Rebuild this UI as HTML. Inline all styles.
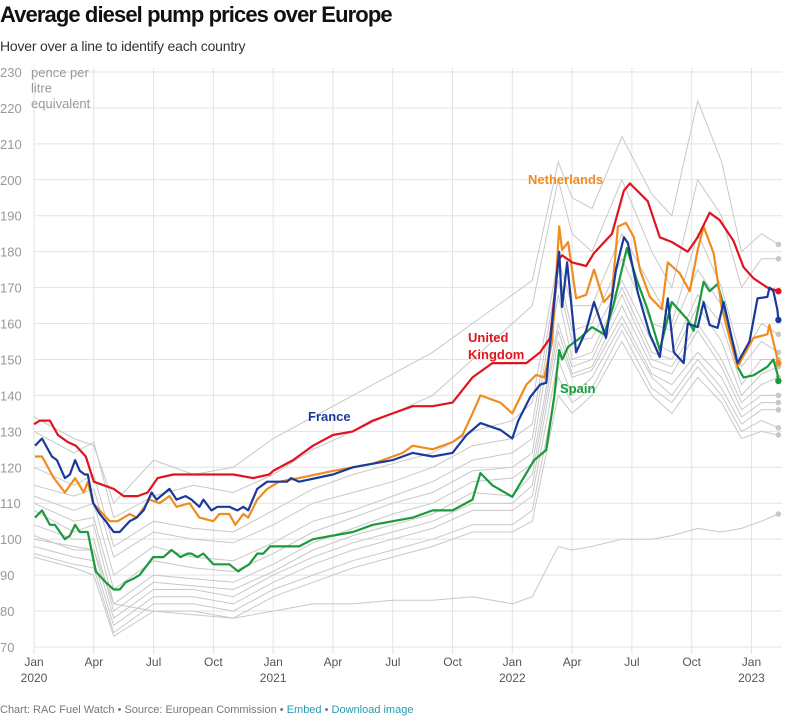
<!DOCTYPE html>
<html><head><meta charset="utf-8"><style>
body{margin:0;background:#fff;font-family:"Liberation Sans",sans-serif;}
#wrap{position:relative;width:790px;height:717px;overflow:hidden;}
h1{position:absolute;left:0;top:2px;margin:0;font-size:22px;font-weight:bold;color:#111;letter-spacing:-0.9px}
.sub{position:absolute;left:0;top:38px;font-size:14px;color:#333;letter-spacing:-0.2px}
.foot{position:absolute;left:0;top:704px;font-size:11px;color:#777}
.foot span{color:#2a9ab0}
svg{position:absolute;left:0;top:0}
</style></head><body>
<div id="wrap">
<h1>Average diesel pump prices over Europe</h1>
<div class="sub">Hover over a line to identify each country</div>
<svg id="chart" width="790" height="717"></svg>
<div class="foot">Chart: RAC Fuel Watch • Source: European Commission • <span>Embed</span> • <span>Download image</span></div>
</div>
<script>
const yTicks=[70,80,90,100,110,120,130,140,150,160,170,180,190,200,210,220,230];
const xTickMonths=[0,3,6,9,12,15,18,21,24,27,30,33,36];
const xTickLabels=["Jan","Apr","Jul","Oct","Jan","Apr","Jul","Oct","Jan","Apr","Jul","Oct","Jan"];
const yearLabels=[[0,"2020"],[12,"2021"],[24,"2022"],[36,"2023"]];
const ukMonths=[0,0.3,0.8,1.2,1.7,2.1,2.6,3.0,3.5,4.0,4.5,5.2,5.7,6.2,7,8,9,10,11,11.8,12,13,14,15,16,17,18,19,20,21,22,23,24,24.7,25.4,25.9,26.3,26.5,27,27.7,28.1,29,29.6,29.9,30.8,31.4,32,32.8,33.3,33.9,34.4,35.1,35.6,36.1,36.8,37.35];
const ukValues=[132,133,133,129,127,126,123,116,115,114,112,112,113,117,118,118,118,118,117,118,119,122,126,129,130,133,135,137,137,138,145,149,149,149,152,156,177.7,179,177,176,179.6,185,197,199,194,184,182.7,180,184,190.8,188.8,183,175.7,172.6,170,169];
const nlMonths=[0.05,0.4,1.0,1.55,2.06,2.5,2.7,2.97,3.8,4.2,4.8,5.15,5.8,6.3,6.8,7.15,7.8,8.3,9.0,9.3,9.8,10.1,10.5,10.75,11.2,11.7,12.3,13.3,15,17,18.5,19,20,21,21.5,22,22.4,23.4,24.0,24.7,25.2,25.6,26.0,26.35,26.5,26.8,27.2,27.7,28.1,28.6,29.0,29.3,29.7,30.1,30.4,30.9,31.5,31.8,32.4,32.9,33.3,33.6,34.1,34.5,34.9,35.3,36.1,36.8,36.9,37.35];
const nlValues=[123,123,117,113,117,113,116,110,105,105,107,106,111,110,112,109,110,106,105,107,107,104,107,106,111,114,116,117,119,121,124,126,125,127,129,135,140,138,135,143,145.7,145,155,187,180.5,182.7,167,168,175,166,168.5,187,188,184,175,167.4,164,177,174,169,180.5,187,179.6,164.6,156,148,156,157,159.6,149];
const frMonths=[0.05,0.4,0.9,1.15,1.55,1.8,2.06,2.3,2.55,2.7,2.97,3.3,3.6,4.0,4.3,4.8,5.15,5.5,5.9,6.15,6.8,7.15,7.6,7.9,8.3,8.5,8.9,9.2,9.8,10.2,10.5,10.75,11.2,11.7,12.7,12.9,13.3,15,16,17,18,19,20,21,21.7,22.4,23.4,24,24.3,24.9,25.4,25.7,26.35,26.5,26.75,27.2,27.7,28.1,28.7,29.2,29.6,29.8,30.3,30.9,31.4,31.8,32.1,32.6,32.8,33.3,33.6,33.9,34.3,34.6,35.3,35.9,36.3,36.8,36.9,37.1,37.3,37.35];
const frValues=[126,128,123,122,117,118,122,119,118,118,110,107,105,102,102,105,106,108,113,111,114,111,112,111,109,111,108,109,109,108,109,108,114,116,116,117,116,118,120,121,122,124,123,124,129,132.3,130.4,128,133,139.6,143,143.5,180,164.6,177,152,158,166,156,175,184,182.4,168.5,157,150.7,167,152,149,160,159,166,159.6,158.8,166,149,155,167,167.4,170,169,163.8,161];
const esMonths=[0.05,0.4,0.8,1.05,1.55,1.8,2.06,2.3,2.7,3.1,3.6,4.0,4.3,4.6,4.98,5.3,5.98,6.5,6.9,7.35,7.7,7.9,8.2,8.5,9.0,9.8,10.25,10.5,10.8,11.2,11.5,11.85,13.3,14,16,17,19,20,21,22,22.4,23,24,24.5,25.1,25.7,26.1,26.35,26.5,26.8,27.4,28.0,28.6,29.05,29.75,30.25,30.8,31.4,32.0,32.8,33.1,33.6,33.9,34.3,34.8,35.3,35.6,36.1,36.8,37.1,37.3,37.35];
const esValues=[106,108,104,104,100,101,104,102,102,91,88,86,86,88,89,90,95,95,97,95,96,96,95,96,93,93,91,92,93,96,96,98,98,100,102,104,106,108,108,111,118.4,115,111.8,116.5,122,124.8,139.6,152.6,150,153.5,156,159,157,164.6,181,172,163.8,152.6,166,161,158,171.6,169,171,161,148,145,145.6,148,150,146,144];
const grayMonths=[0,2,3,4,6,8,10,12,14,16,18,20,22,24,25,26.3,27,28,29.5,31,32,33.3,34.5,35.5,36.5,37.35];
const grayValues=[
[134,128,126,110,122,118,120,128,134,140,146,152,160,168,172,205,195,192,212,196,190,222,205,180,185,182],
[130,124,127,106,112,115,113,118,125,130,135,140,150,160,165,200,185,180,200,180,170,200,190,170,178,178],
[120,115,118,98,105,103,102,108,114,118,121,124,130,133,138,178,165,165,185,170,160,185,170,150,160,157],
[115,112,114,95,102,100,99,104,110,113,116,120,126,128,132,175,158,160,178,160,158,175,165,148,155,152],
[112,108,110,90,98,95,94,99,105,108,112,116,122,124,128,172,155,156,172,155,152,168,160,143,150,150],
[110,105,106,86,94,92,91,96,102,106,110,113,119,120,124,168,150,152,170,152,150,165,155,140,146,148],
[108,102,104,82,90,89,88,93,99,103,107,110,116,117,121,160,148,150,168,150,148,160,150,138,143,145],
[104,100,100,80,88,87,86,91,97,101,104,107,113,112,118,158,146,148,165,148,146,158,148,136,140,140],
[101,97,97,78,86,86,84,90,95,99,102,105,110,110,115,155,145,147,162,146,143,152,145,134,138,138],
[98,95,94,76,84,84,82,88,93,97,100,103,108,108,112,150,140,145,160,145,140,150,142,132,136,136],
[96,93,92,74,82,82,80,86,90,94,97,100,104,104,108,145,138,142,158,142,138,148,140,130,133,131],
[95,92,90,73,80,80,78,84,88,92,95,98,102,102,105,140,135,140,155,140,135,145,138,128,130,129],
[100,98,97,82,80,79,78,80,82,82,83,83,84,82,84,98,97,98,100,100,101,103,102,103,105,107]
];
const NS='http://www.w3.org/2000/svg';
const svg=document.getElementById('chart');
const x=m=>34+m*19.93;
const y=v=>647-(v-70)*3.594;
function mk(t,a,p){const e=document.createElementNS(NS,t);for(const k in a)e.setAttribute(k,a[k]);(p||svg).appendChild(e);return e;}
const grid=mk('g',{});


yTicks.forEach(v=>{
  mk('line',{x1:34,x2:782,y1:y(v),y2:y(v),stroke:'#e3e3e3','stroke-width':1},grid);
  const t=mk('text',{x:0,y:y(v)+5,'font-size':13,fill:'#999'});
  t.textContent=v;
  
  
});
xTickMonths.forEach((m,i)=>{
  mk('line',{x1:x(m),x2:x(m),y1:68,y2:654,stroke:'#e3e3e3','stroke-width':1},grid);
  const t=mk('text',{x:x(m),y:666,'font-size':12,fill:'#555','text-anchor':'middle'});
  t.textContent=xTickLabels[i];
  
  
});
yearLabels.forEach(([m,l])=>{
  const t=mk('text',{x:x(m),y:682,'font-size':12,fill:'#555','text-anchor':'middle'});
  t.textContent=l;
  
  
});
const yt=mk('text',{x:31,y:77,'font-size':13,fill:'#999'});


['pence per','litre','equivalent'].forEach((s,i)=>{const ts=mk('tspan',{x:31,dy:i?15.5:0},yt);ts.textContent=s;});
function path(ms,vs){return ms.map((m,i)=>(i?'L':'M')+x(m).toFixed(1)+','+y(vs[i]).toFixed(1)).join('');}
grayValues.forEach(vs=>{
  const p=mk('path',{d:path(grayMonths,vs),fill:'none',stroke:'#c8c8c8','stroke-width':1});
  
  
  const c=mk('circle',{cx:x(grayMonths[grayMonths.length-1]),cy:y(vs[vs.length-1]),r:2.8,fill:'#c8c8c8'});
  
  
});
const hl=[[esMonths,esValues,'#1a9a3a','spain'],[nlMonths,nlValues,'#f08c1e','netherlands'],[ukMonths,ukValues,'#e0141e','united-kingdom'],[frMonths,frValues,'#1a3a9a','france']];
hl.forEach(([ms,vs,c,n])=>{
  const p=mk('path',{d:path(ms,vs),fill:'none',stroke:c,'stroke-width':2.2,'stroke-linejoin':'round'});
  
  
  const d=mk('circle',{cx:x(ms[ms.length-1]),cy:y(vs[vs.length-1]),r:3.2,fill:c});
  
  
});
function lab(txt,xx,yy,c,n){const t=mk('text',{x:xx,y:yy,'font-size':13,'font-weight':'bold',fill:c});
  if(Array.isArray(txt)){txt.forEach((s,i)=>{const ts=mk('tspan',{x:xx,dy:i?17:0},t);ts.textContent=s;});}else t.textContent=txt;
  
  }
lab('Netherlands',528,184,'#f08c1e','label-netherlands');
lab(['United','Kingdom'],468,342,'#e0141e','label-united-kingdom');
lab('Spain',560,393,'#1a9a3a','label-spain');
lab('France',308,421,'#1a3a9a','label-france');
</script>
</body></html>
